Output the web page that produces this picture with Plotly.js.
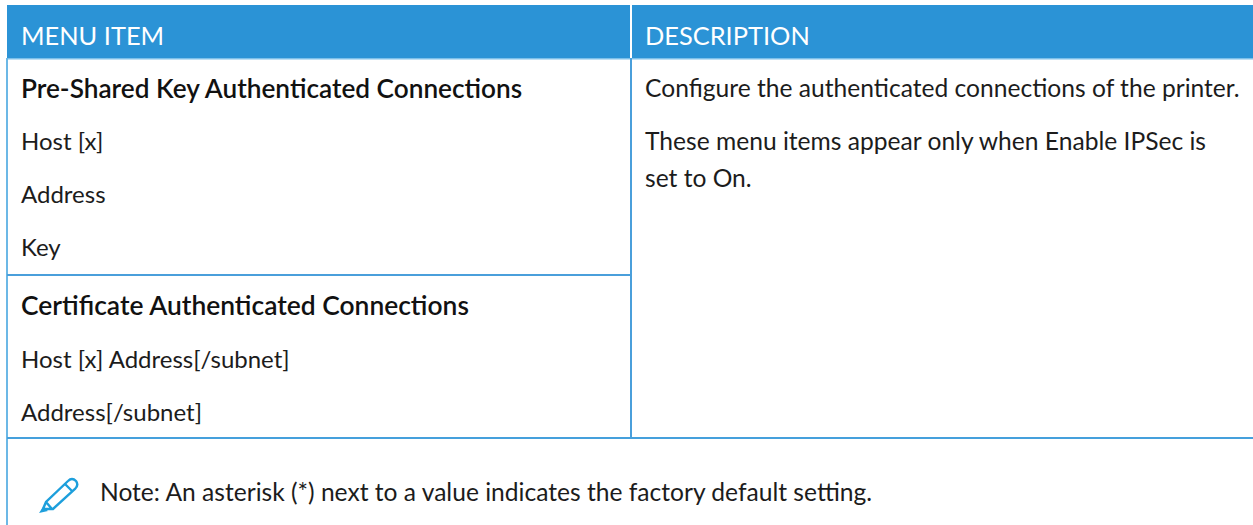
<!DOCTYPE html>
<html><head><meta charset="utf-8">
<script src="https://cdn.plot.ly/plotly-3.0.1.min.js"></script>
<style>html,body{margin:0;padding:0;background:#fff}#c{width:1253px;height:525px}text{font-variant-ligatures:none}</style></head>
<body><div id="c"></div>
<script>
const headers = ["MENU ITEM", "DESCRIPTION"];
const leftBold = ["Pre-Shared Key Authenticated Connections", "Certificate Authenticated Connections"];
const leftPlain = ["Host [x]", "Address", "Key", "Host [x] Address[/subnet]", "Address[/subnet]"];
const rightText = ["Configure the authenticated connections of the printer.", "These menu items appear only when Enable IPSec is", "set to On."];
const noteText = "Note: An asterisk (*) next to a value indicates the factory default setting.";

const FONT = "Lato, 'Open Sans', sans-serif";
function t(x, y, text, color, size, weight){
  return {xref:'x',yref:'y',x:x-2,y,text,showarrow:false,xanchor:'left',yanchor:'middle',
    font:{family:FONT,size,color:color||'#1c1c1c',weight:weight||400}};
}
const ann = [
  t(21,35,headers[0],'#ffffff',25.4), t(645,35,headers[1],'#ffffff',25.4),
  t(21,87.5,leftBold[0],'#111',26.2,600), t(21,140,leftPlain[0],0,24), t(21,193,leftPlain[1],0,24), t(21,246,leftPlain[2],0,24),
  t(21,305,leftBold[1],'#111',26.4,600), t(21,358,leftPlain[3],0,24), t(21,411,leftPlain[4],0,24),
  t(645,87,rightText[0],0,24.6), t(645,140,rightText[1],0,24.6), t(645,177,rightText[2],0,24.6),
  t(100,491,noteText,0,24.6)
];
const rect=(x0,y0,x1,y1,c)=>({type:'rect',xref:'x',yref:'y',x0,y0,x1,y1,fillcolor:c,line:{width:0},layer:'below'});
const shapes=[
  rect(7,5,630,58,'#2b93d6'), rect(632,5,1253,58,'#2b93d6'),
  rect(6,58,1253,59.5,'#7cc0ea'),
  rect(6,58,8,525,'#6cb8e6'),
  rect(630,58,632,438,'#4a9fdb'),
  rect(7,274,631,276,'#4a9fdb'),
  rect(7,437,1253,439,'#45a0dc'),
  {type:'path',xref:'x',yref:'y',layer:'above',line:{color:'#1d9fdc',width:2.4},fillcolor:'rgba(0,0,0,0)',
   path:'M43 509 L46 502 L68 481 Q72 477 76 481 Q79 485 75 489 L53 509 Z M46 502 L52 509 M65 484 L72 491'},
  {type:'path',xref:'x',yref:'y',layer:'above',line:{width:0},fillcolor:'#1d9fdc',path:'M39 513 L43 507 L48 511 Z'}
];
Plotly.newPlot('c',[],{
  width:1253,height:525,margin:{l:0,r:0,t:0,b:0},paper_bgcolor:'#fff',plot_bgcolor:'#fff',showlegend:false,
  xaxis:{range:[0,1253],visible:false,fixedrange:true},
  yaxis:{range:[525,0],visible:false,fixedrange:true},
  annotations:ann,shapes
},{staticPlot:true,displayModeBar:false});
</script></body></html>
